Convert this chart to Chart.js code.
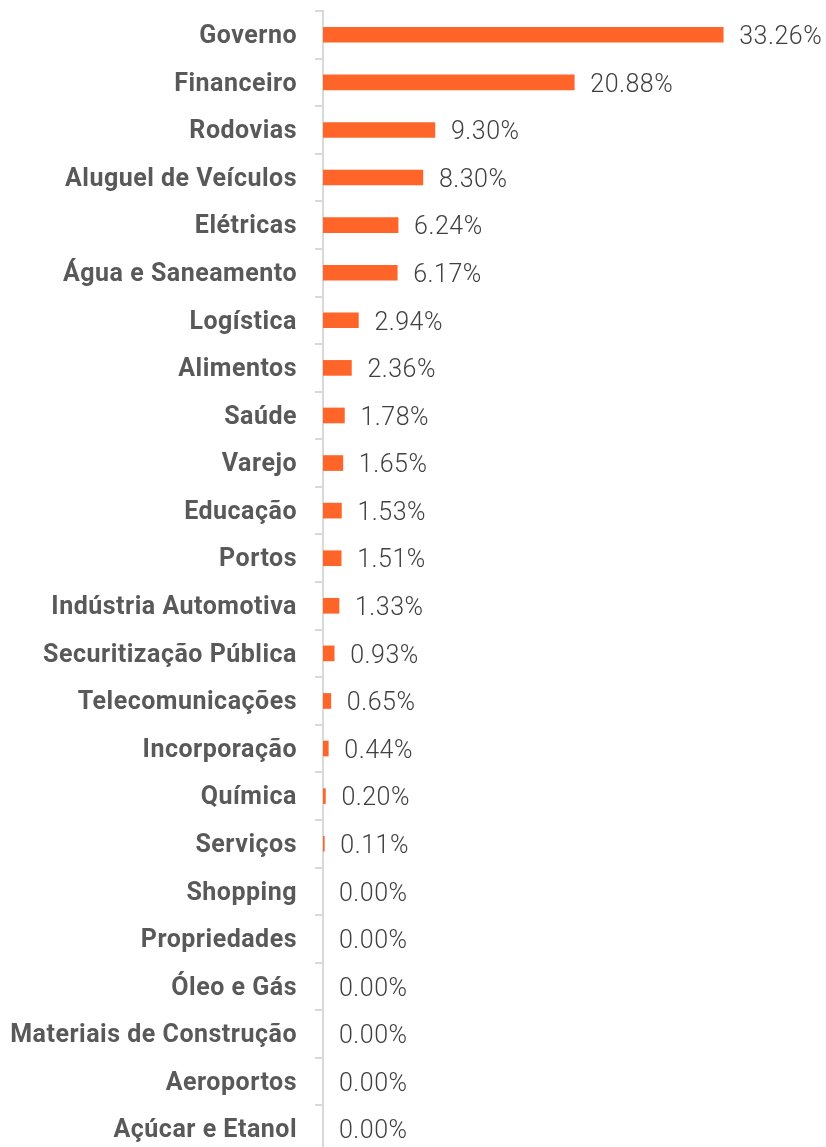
<!DOCTYPE html>
<html>
<head>
<meta charset="utf-8">
<script src="https://cdn.jsdelivr.net/npm/chart.js@4"></script>
<style>
  html, body { margin: 0; padding: 0; background: #fff; overflow: hidden; }
  #wrap { width: 826px; height: 1155px; }
</style>
</head>
<body>
<div id="wrap"><canvas id="sectorChart"></canvas></div>
<script>
var sectors = [
    'Governo', 'Financeiro', 'Rodovias', 'Aluguel de Veículos', 'Elétricas',
    'Água e Saneamento', 'Logística', 'Alimentos', 'Saúde', 'Varejo',
    'Educação', 'Portos', 'Indústria Automotiva', 'Securitização Pública',
    'Telecomunicações', 'Incorporação', 'Química', 'Serviços', 'Shopping',
    'Propriedades', 'Óleo e Gás', 'Materiais de Construção', 'Aeroportos',
    'Açúcar e Etanol'
];
var shares = [
    33.26, 20.88, 9.30, 8.30, 6.24,
    6.17, 2.94, 2.36, 1.78, 1.65,
    1.53, 1.51, 1.33, 0.93,
    0.65, 0.44, 0.20, 0.11, 0.00,
    0.00, 0.00, 0.00, 0.00,
    0.00
];

// slightly wider text, the original font is wider than Roboto
var spacing = {
    id: 'spacing',
    beforeDraw: function (chart) { chart.ctx.letterSpacing = '0.5px'; },
    afterDraw: function (chart) { chart.ctx.letterSpacing = '0px'; }
};

// draws the % value just after each bar end
var valueLabels = {
    id: 'valueLabels',
    afterDatasetsDraw: function (chart) {
        var ctx = chart.ctx;
        var meta = chart.getDatasetMeta(0);
        ctx.save();
        ctx.font = '300 25px Roboto';
        ctx.fillStyle = '#404040';
        ctx.textAlign = 'left';
        ctx.textBaseline = 'middle';
        meta.data.forEach(function (bar, i) {
            ctx.fillText(shares[i].toFixed(2) + '%', bar.x + 16, bar.y + 3);
        });
        ctx.restore();
    }
};

document.addEventListener('DOMContentLoaded', function () {
    var ctx = document.getElementById('sectorChart').getContext('2d');
    var chart = new Chart(ctx, {
        type: 'bar',
        data: {
            labels: sectors,
            datasets: [{
                label: 'Setor',
                data: shares,
                backgroundColor: function (c) {
                    return c.raw > 0 ? '#FF6428' : 'rgba(0,0,0,0)';
                },
                barThickness: 15,
                borderWidth: 0
            }]
        },
        options: {
            indexAxis: 'y',
            responsive: true,
            maintainAspectRatio: false,
            animation: false,
            layout: {
                padding: { top: 11, right: 0, bottom: 2, left: 0 }
            },
            scales: {
                x: {
                    display: false,
                    min: 0,
                    max: 41.8
                },
                y: {
                    afterFit: function (scale) {
                        scale.width = 323;
                        scale.paddingTop = 0;
                        scale.paddingBottom = 0;
                    },
                    border: { display: true, color: '#d9d9d9', width: 2 },
                    grid: {
                        offset: true,
                        drawOnChartArea: false,
                        drawTicks: true,
                        tickLength: 8,
                        color: '#d9d9d9',
                        lineWidth: 2
                    },
                    ticks: {
                        padding: 18,
                        labelOffset: 2,
                        color: '#595959',
                        font: { family: 'Roboto', size: 25, weight: 'bold' }
                    }
                }
            },
            plugins: {
                legend: { display: false },
                tooltip: { enabled: false }
            }
        },
        plugins: [spacing, valueLabels]
    });
});
</script>
</body>
</html>
